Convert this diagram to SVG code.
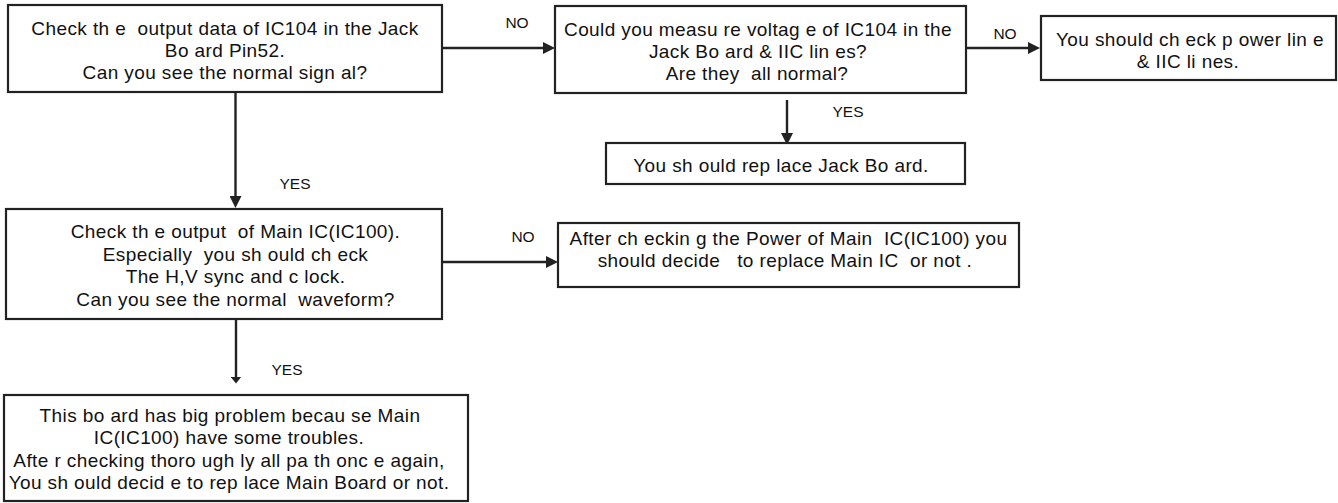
<svg xmlns="http://www.w3.org/2000/svg" width="1338" height="503" viewBox="0 0 1338 503">
<style>
.box{fill:#fff;stroke:#222;stroke-width:2.2}
.t{font-family:"Liberation Sans",Arial,sans-serif;font-size:19px;letter-spacing:0.4px;fill:#111;text-anchor:middle;white-space:pre}
.lbl{font-family:"Liberation Sans",Arial,sans-serif;font-size:15.5px;fill:#111;text-anchor:middle}
.c{stroke:#222;stroke-width:2.4;fill:none}
</style>
<defs>
<marker id="arr" markerUnits="userSpaceOnUse" viewBox="0 0 12 12" markerWidth="12" markerHeight="12" refX="6" refY="6" orient="auto">
<path d="M0,0 L12,6 L0,12 z" fill="#222"/>
</marker>
<marker id="arrs" markerUnits="userSpaceOnUse" viewBox="0 0 7 11" markerWidth="7" markerHeight="11" refX="3.5" refY="5.5" orient="auto">
<path d="M0,0 L7,5.5 L0,11 z" fill="#222"/>
</marker>
</defs>
<rect width="1338" height="503" fill="#fff"/>
<g id="connectors">
<line class="c" x1="442" y1="48" x2="549" y2="48" marker-end="url(#arr)"/>
<text class="lbl" x="517" y="28">NO</text>
<line class="c" x1="967" y1="48" x2="1034" y2="48" marker-end="url(#arr)"/>
<text class="lbl" x="1005" y="39">NO</text>
<line class="c" x1="787" y1="100" x2="787" y2="139" marker-end="url(#arr)"/>
<text class="lbl" x="848" y="117">YES</text>
<line class="c" x1="235.5" y1="88" x2="235.5" y2="202" marker-end="url(#arr)"/>
<text class="lbl" x="295" y="189">YES</text>
<line class="c" x1="442" y1="262" x2="552" y2="262" marker-end="url(#arr)"/>
<text class="lbl" x="523" y="242">NO</text>
<line class="c" x1="236" y1="319" x2="236" y2="380" marker-end="url(#arrs)"/>
<text class="lbl" x="287" y="375">YES</text>
</g>
<g id="n1">
<rect class="box" x="8" y="5" width="434" height="87"/>
<text class="t" x="225" y="34.5" xml:space="preserve">Check th e  output data of IC104 in the Jack</text>
<text class="t" x="225" y="56.5" xml:space="preserve">Bo ard Pin52.</text>
<text class="t" x="225" y="78.5" xml:space="preserve">Can you see the normal sign al?</text>
</g>
<g id="n2">
<rect class="box" x="555" y="6" width="411" height="87"/>
<text class="t" x="758" y="35.5" xml:space="preserve">Could you measu re voltag e of IC104 in the</text>
<text class="t" x="758" y="57.5" xml:space="preserve">Jack Bo ard &amp; IIC lin es?</text>
<text class="t" x="757" y="79.5" xml:space="preserve">Are they  all normal?</text>
</g>
<g id="n3">
<rect class="box" x="1041" y="16" width="295" height="64"/>
<text class="t" x="1190" y="45.5" xml:space="preserve">You should ch eck p ower lin e</text>
<text class="t" x="1188" y="68" xml:space="preserve">&amp; IIC li nes.</text>
</g>
<g id="n4">
<rect class="box" x="606" y="143" width="359" height="41"/>
<text class="t" x="781" y="171.5" xml:space="preserve">You sh ould rep lace Jack Bo ard.</text>
</g>
<g id="n5">
<rect class="box" x="6" y="209" width="436" height="110"/>
<text class="t" x="235.5" y="238" xml:space="preserve">Check th e output  of Main IC(IC100).</text>
<text class="t" x="235.5" y="260.5" xml:space="preserve">Especially  you sh ould ch eck</text>
<text class="t" x="235.5" y="283" xml:space="preserve">The H,V sync and c lock.</text>
<text class="t" x="235.5" y="305.5" xml:space="preserve">Can you see the normal  waveform?</text>
</g>
<g id="n6">
<rect class="box" x="558" y="223" width="461" height="64"/>
<text class="t" x="788.5" y="245" xml:space="preserve">After ch eckin g the Power of Main  IC(IC100) you</text>
<text class="t" x="785" y="267" xml:space="preserve">should decide   to replace Main IC  or not .</text>
</g>
<g id="n7">
<rect class="box" x="4" y="395" width="464" height="106"/>
<text class="t" x="230" y="421.5" xml:space="preserve">This bo ard has big problem becau se Main</text>
<text class="t" x="229" y="444" xml:space="preserve">IC(IC100) have some troubles.</text>
<text class="t" x="229" y="466.5" xml:space="preserve">Afte r checking thoro ugh ly all pa th onc e again,</text>
<text class="t" x="229" y="488.5" xml:space="preserve">You sh ould decid e to rep lace Main Board or not.</text>
</g>
</svg>
